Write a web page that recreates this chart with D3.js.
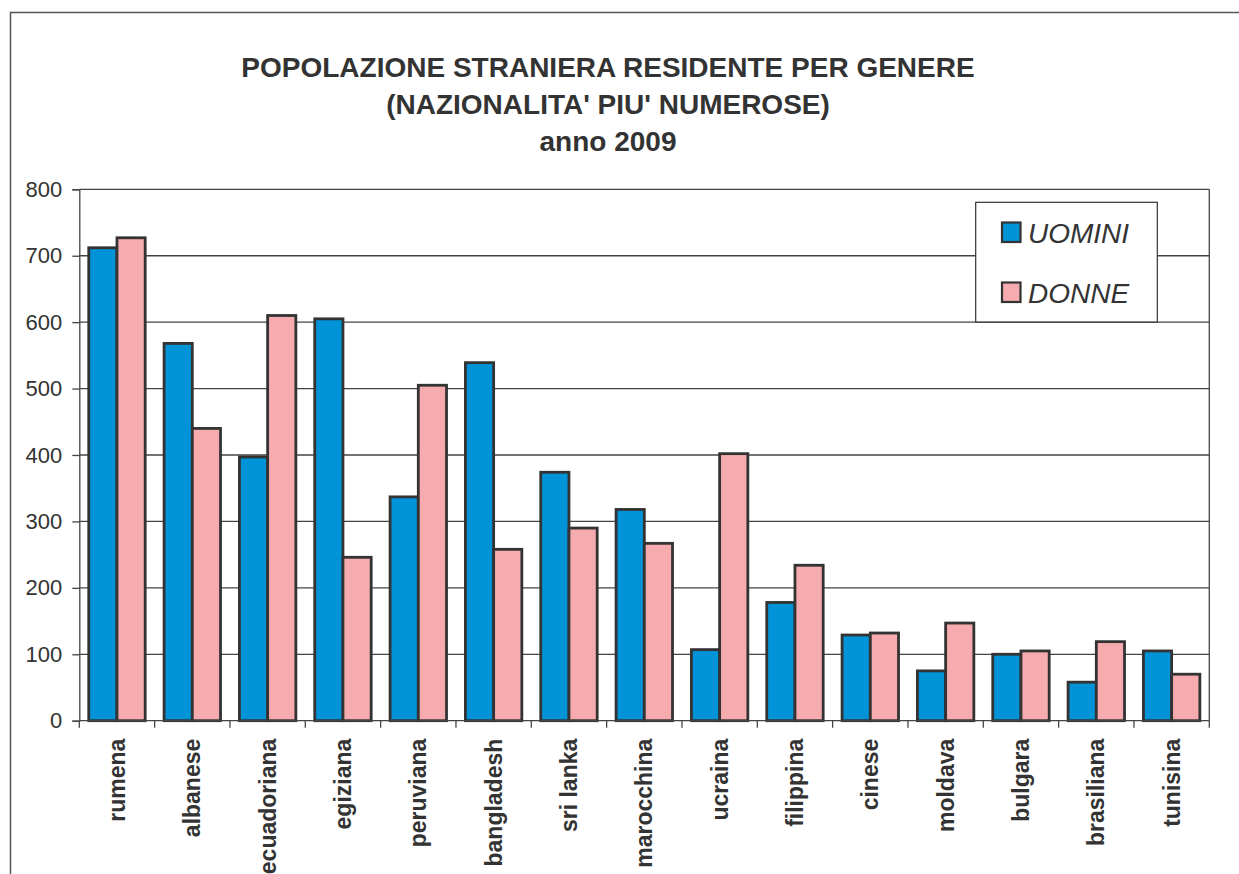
<!DOCTYPE html>
<html>
<head>
<meta charset="utf-8">
<script src="https://cdn.jsdelivr.net/npm/d3@7"></script>
<style>
  html, body { margin: 0; padding: 0; background: #fff; overflow: hidden; }
  svg { display: block; font-family: "Liberation Sans", Arial, Helvetica, sans-serif; }
</style>
</head>
<body>
<svg id="chart" width="1239" height="874"></svg>
<script>
// Nationalities (x categories)
const nazionalita = ["rumena", "albanese", "ecuadoriana", "egiziana", "peruviana",
  "bangladesh", "sri lanka", "marocchina", "ucraina", "filippina", "cinese",
  "moldava", "bulgara", "brasiliana", "tunisina"];

// Resident foreign population by gender, 2009
const uomini = [712, 568, 397, 605, 337, 539, 374, 318, 107, 178, 129, 75, 100, 58, 105];
const donne  = [727, 440, 610, 246, 505, 258, 290, 267, 402, 234, 132, 147, 105, 119, 70];

const serieNomi = ["UOMINI", "DONNE"];
const yTicks = [0, 100, 200, 300, 400, 500, 600, 700, 800];
const titolo = ["POPOLAZIONE STRANIERA RESIDENTE PER GENERE",
                "(NAZIONALITA' PIU' NUMEROSE)",
                "anno 2009"];

const colori = { UOMINI: "#0093d8", DONNE: "#f6abae" };
const ink = "#333333";

const svg = d3.select("#chart");

// chart frame
svg.append("rect")
  .attr("x", 10.5).attr("y", 12.5)
  .attr("width", 1260).attr("height", 900)
  .attr("fill", "#fff").attr("stroke", "#555").attr("stroke-width", 1.5);

// title
const titleG = svg.append("g").attr("font-weight", "bold").attr("fill", ink)
  .attr("text-anchor", "middle").attr("font-size", 28);
titolo.forEach((t, i) => {
  titleG.append("text").attr("x", 608).attr("y", 77 + i * 37).text(t);
});

const plot = { left: 79.3, right: 1209.3, top: 189.3, bottom: 720.7 };

const x0 = d3.scaleBand().domain(nazionalita).range([plot.left, plot.right]).padding(0);
const x1 = d3.scaleBand().domain(serieNomi).range([0, x0.bandwidth()])
  .paddingInner(0).paddingOuter(0.335);
const y = d3.scaleLinear().domain([0, 800]).range([plot.bottom, plot.top]);

// horizontal gridlines
svg.append("g").selectAll("line")
  .data(yTicks.filter(d => d > 0))
  .join("line")
  .attr("x1", plot.left).attr("x2", plot.right)
  .attr("y1", d => y(d)).attr("y2", d => y(d))
  .attr("stroke", "#444").attr("stroke-width", 1.3);

// right edge of the plot area
svg.append("line")
  .attr("x1", plot.right).attr("x2", plot.right)
  .attr("y1", plot.top).attr("y2", plot.bottom)
  .attr("stroke", "#444").attr("stroke-width", 1.3);

// bars
const rows = nazionalita.map((n, i) => ({ n, vals: [
  { s: "UOMINI", v: uomini[i] }, { s: "DONNE", v: donne[i] }] }));

const groups = svg.append("g").selectAll("g")
  .data(rows).join("g")
  .attr("transform", d => `translate(${x0(d.n)},0)`);

groups.selectAll("rect")
  .data(d => d.vals).join("rect")
  .attr("x", d => x1(d.s))
  .attr("y", d => y(d.v))
  .attr("width", x1.bandwidth())
  .attr("height", d => y(0) - y(d.v))
  .attr("fill", d => colori[d.s])
  .attr("stroke", ink).attr("stroke-width", 2.8);

// y axis
const yAxis = svg.append("g")
  .attr("transform", `translate(${plot.left},0)`)
  .call(d3.axisLeft(y).tickValues(yTicks).tickSize(7).tickPadding(10).tickFormat(d3.format("d")));
yAxis.select(".domain").attr("stroke", "#444").attr("stroke-width", 1.3);
yAxis.selectAll(".tick line").attr("stroke", "#444").attr("stroke-width", 1.3);
yAxis.selectAll("text").attr("font-size", 22).attr("fill", ink)
  .attr("font-family", "Liberation Sans, Arial, sans-serif");

// x axis: ticks between categories
const xAxis = svg.append("g").attr("transform", `translate(0,${plot.bottom})`);
xAxis.append("line")
  .attr("x1", plot.left).attr("x2", plot.right)
  .attr("stroke", "#444").attr("stroke-width", 1.3);
const bounds = nazionalita.map(n => x0(n)).concat([plot.right]);
xAxis.selectAll("line.tk").data(bounds).join("line").attr("class", "tk")
  .attr("x1", d => d).attr("x2", d => d)
  .attr("y1", 0).attr("y2", 7)
  .attr("stroke", "#444").attr("stroke-width", 1.3);
xAxis.selectAll("text").data(nazionalita).join("text")
  .attr("transform", d => `translate(${x0(d) + x0.bandwidth() / 2 + 8},${18}) rotate(-90)`)
  .attr("text-anchor", "end")
  .attr("font-size", 23).attr("font-weight", "bold").attr("fill", ink)
  .text(d => d);

// legend
const leg = svg.append("g");
leg.append("rect")
  .attr("x", 975.7).attr("y", 202.3).attr("width", 181.6).attr("height", 119.7)
  .attr("fill", "#fff").attr("stroke", ink).attr("stroke-width", 1.2);
serieNomi.forEach((s, i) => {
  const yy = 222.5 + i * 60;
  leg.append("rect")
    .attr("x", 1002).attr("y", yy).attr("width", 18.5).attr("height", 19.5)
    .attr("fill", colori[s]).attr("stroke", ink).attr("stroke-width", 2.2);
  leg.append("text")
    .attr("x", 1028).attr("y", yy + 20.3)
    .attr("font-size", 28).attr("font-style", "italic").attr("fill", ink)
    .text(s);
});
</script>
</body>
</html>
